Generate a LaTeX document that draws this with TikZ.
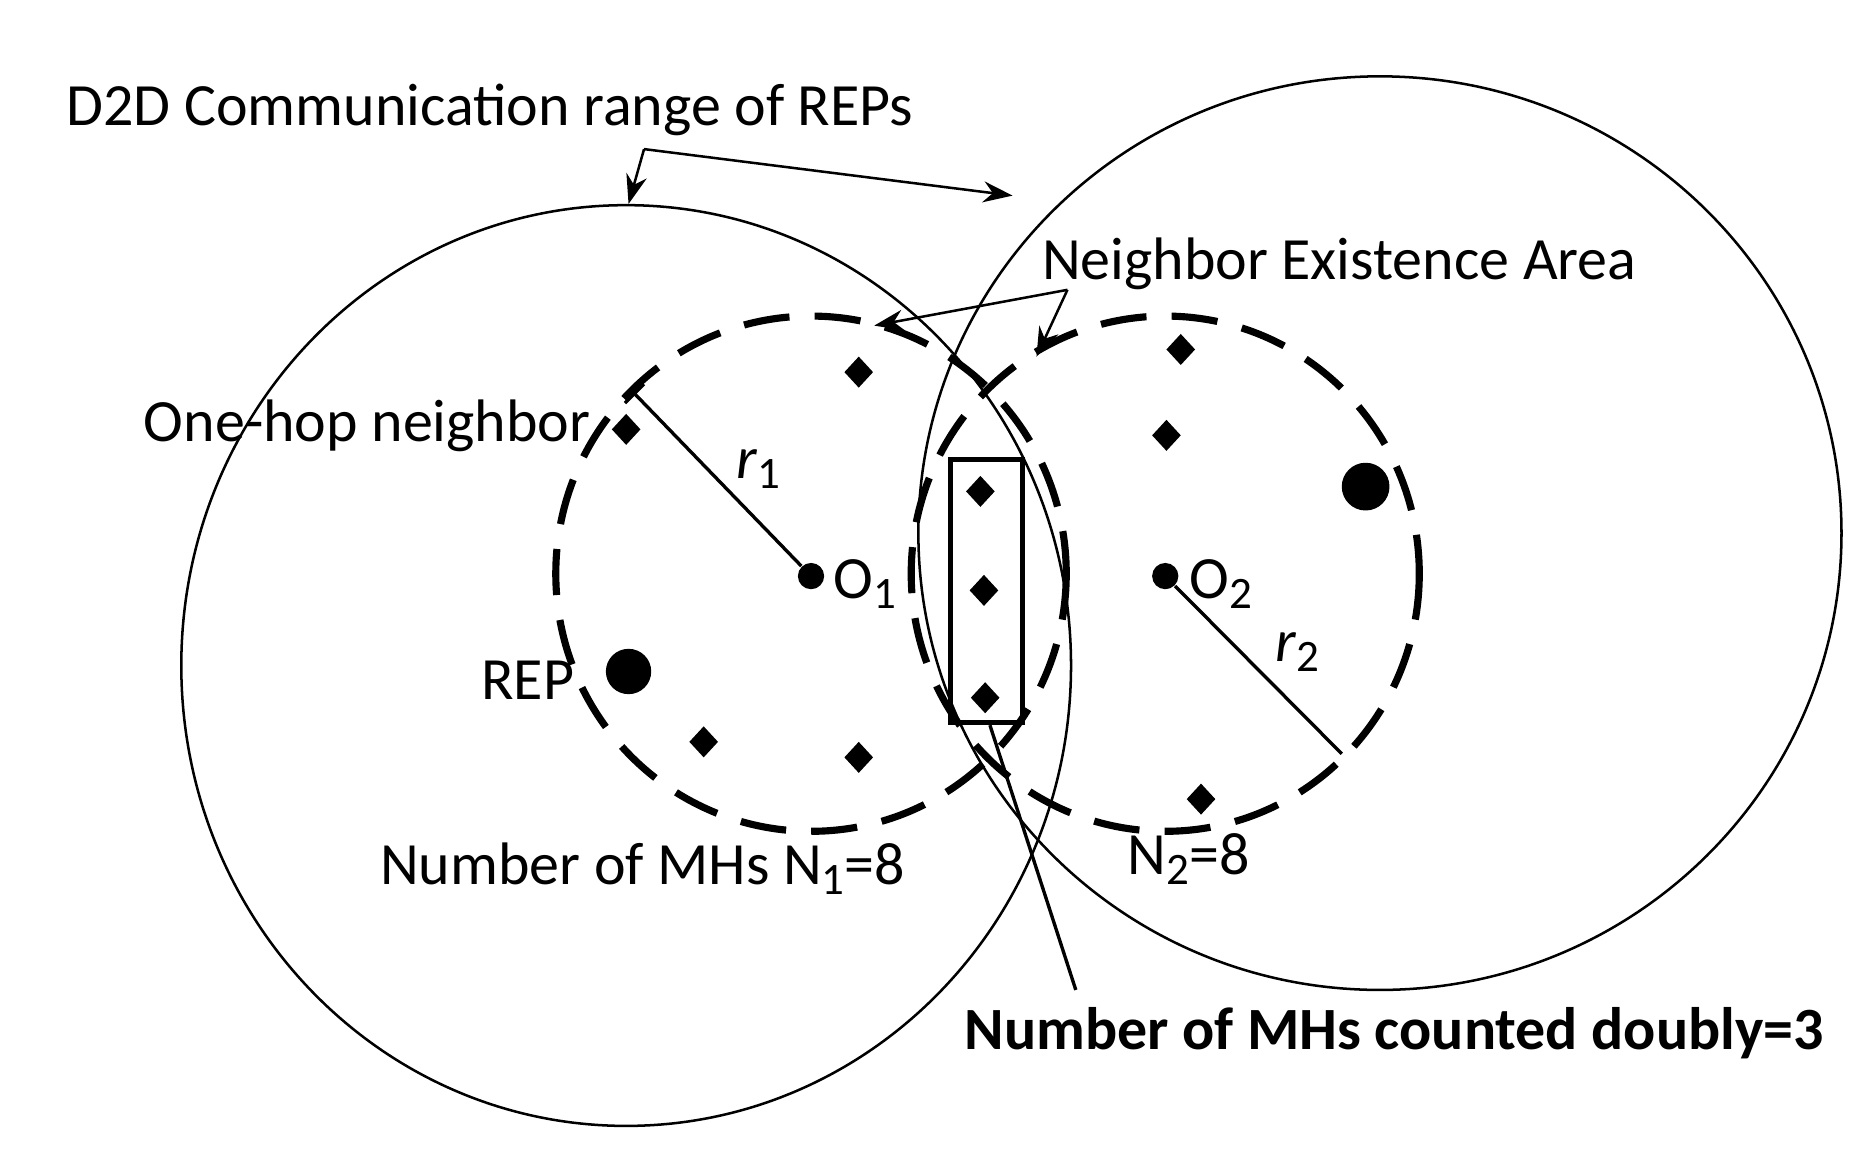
\documentclass[tikz,border=0pt]{standalone}
\usepackage{fontspec}
\setmainfont{Carlito}
\usetikzlibrary{arrows.meta,calc}
\newcommand{\mysub}[1]{\raisebox{-0.35ex}{\scalebox{0.75}{#1}}}
\begin{document}
\begin{tikzpicture}[x=0.01cm,y=-0.01cm,
  lbl/.style={font=\fontsize{14.3pt}{16pt}\selectfont,inner sep=0pt},
  dot/.style={circle,fill=black,inner sep=0pt},
  nbdash/.style={line width=1.7pt,dash pattern=on 11pt off 6pt},
  arr/.style={-{Stealth[length=7pt,width=5pt]},line width=0.6pt}]
\useasboundingbox (0,0) rectangle (1557,966);
% big ranges
\draw[line width=0.6pt] (525,558) ellipse [x radius=373, y radius=386];
\draw[line width=0.6pt] (1157,447) ellipse [x radius=387, y radius=383];
% dashed neighbor areas
\draw[nbdash] (680,481) ellipse [x radius=214, y radius=216];
\draw[nbdash] (977,481) ellipse [x radius=213, y radius=216];
% centers
\node[dot,minimum size=0.22cm] (o1) at (680,483) {};
\node[dot,minimum size=0.22cm] (o2) at (977,483) {};
\coordinate (r1e) at (532,330);
\coordinate (r2e) at (1125,632);
\draw[line width=0.8pt] (o1) -- (r1e);
\draw[line width=0.8pt] ($(r1e)+(-8,8)$) -- ($(r1e)+(8,-8)$);
\draw[line width=0.8pt] (o2) -- (r2e);
\node[lbl] at (636,393) {\textit{r}\mysub{1}};
\node[lbl] at (1088,547) {\textit{r}\mysub{2}};
\node[lbl,anchor=west] at (698,490) {O\mysub{1}};
\node[lbl,anchor=west] at (997,490) {O\mysub{2}};
% REPs
\node[dot,minimum size=0.38cm] (rep1) at (527,563) {};
\node[dot,minimum size=0.40cm] (rep2) at (1145,408) {};
\node[lbl,anchor=east] at (482,570) {REP};
% MHs
\foreach \p in {(720,312),(525,360),(822,412),(825,495),(826,585),(590,622),(720,635),(990,293),(978,365),(1007,670)}
  \fill \p ++(0,-13) -- ++(12,13) -- ++(-12,13) -- ++(-12,-13) -- cycle;
% rectangle
\draw[line width=1.2pt] (797,385) rectangle (857,606);
% labels
\node[lbl,anchor=west] (d2d) at (55,92) {D2D Communication range of REPs};
\coordinate (d2dj) at (540,125);
\draw[arr] (d2dj) -- (527,171);
\draw[arr] (d2dj) -- (849,164);
\node[lbl,anchor=west] (nea) at (873,221) {Neighbor Existence Area};
\coordinate (neaj) at (895,243);
\draw[arr] (neaj) -- (733,273);
\draw[arr] (neaj) -- (869,299);
\node[lbl,anchor=west] at (120,357) {One-hop neighbor};
\node[lbl,anchor=west] at (318,728) {Number of MHs N\mysub{1}=8};
\node[lbl,anchor=west] at (945,720) {N\mysub{2}=8};
\node[lbl,anchor=west,font=\fontsize{14.3pt}{16pt}\selectfont\bfseries] (dbl) at (808,866) {Number of MHs counted doubly=3};
\draw[line width=0.8pt] (830,608) -- (902,830);
\end{tikzpicture}
\end{document}
